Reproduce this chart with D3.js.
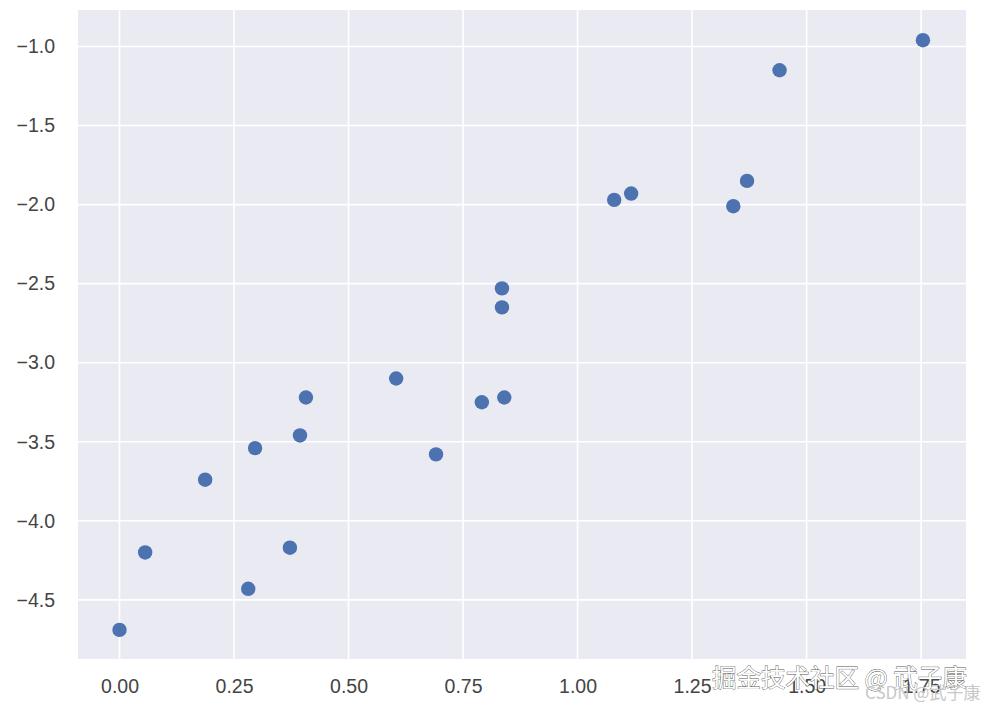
<!DOCTYPE html>
<html>
<head>
<meta charset="utf-8">
<script src="https://cdn.jsdelivr.net/npm/d3@7"></script>
<style>
  body { margin: 0; background: #fff; }
  .tick text { font-family: "Liberation Sans", Arial, sans-serif; }
</style>
</head>
<body>
<div id="chart"></div>
<script>
// Scatter values
var xValues = [0.000, 0.056, 0.187, 0.281, 0.296, 0.372, 0.394, 0.407, 0.604, 0.691,
               0.791, 0.840, 0.835, 0.835, 1.080, 1.117, 1.340, 1.370, 1.441, 1.754];
var yValues = [-4.69, -4.20, -3.74, -4.43, -3.54, -4.17, -3.46, -3.22, -3.10, -3.58,
               -3.25, -3.22, -2.53, -2.65, -1.97, -1.93, -2.01, -1.85, -1.15, -0.96];
var xTicks = [0, 0.25, 0.5, 0.75, 1.0, 1.25, 1.5, 1.75];
var yTicks = [-1.0, -1.5, -2.0, -2.5, -3.0, -3.5, -4.0, -4.5];

var data = xValues.map(function(x, i) { return {x: x, y: yValues[i]}; });

// SVG area
var svgWidth = 992;
var svgHeight = 712;
var margin = {top: 10, right: 26, bottom: 53, left: 78};
var width = svgWidth - margin.left - margin.right;
var height = svgHeight - margin.top - margin.bottom;

var svg = d3.select("#chart")
    .append("svg")
    .attr("width", svgWidth)
    .attr("height", svgHeight);

var chartGroup = svg.append("g")
    .attr("transform", `translate(${margin.left}, ${margin.top})`);

// Scales
var xScale = d3.scaleLinear()
    .domain([-0.0906, 1.848])
    .range([0, width]);
var yScale = d3.scaleLinear()
    .domain([-4.874, -0.769])
    .range([height, 0]);

// Background
chartGroup.append("rect")
    .attr("width", width)
    .attr("height", height)
    .attr("fill", "#eaeaf2");

// Grid lines
chartGroup.selectAll(".vgrid")
    .data(xTicks)
    .enter()
    .append("line")
    .attr("x1", d => xScale(d))
    .attr("x2", d => xScale(d))
    .attr("y1", 0)
    .attr("y2", height)
    .attr("stroke", "#fff")
    .attr("stroke-width", 1.6);
chartGroup.selectAll(".hgrid")
    .data(yTicks)
    .enter()
    .append("line")
    .attr("x1", 0)
    .attr("x2", width)
    .attr("y1", d => yScale(d))
    .attr("y2", d => yScale(d))
    .attr("stroke", "#fff")
    .attr("stroke-width", 1.6);

// Axes (labels only)
var xAxis = d3.axisBottom(xScale).tickValues(xTicks).tickFormat(d3.format(".2f")).tickSize(0).tickPadding(27);
var yAxis = d3.axisLeft(yScale).tickValues(yTicks).tickFormat(d3.format(".1f")).tickSize(0).tickPadding(23);

var gx = chartGroup.append("g")
    .attr("transform", `translate(0, ${height})`)
    .call(xAxis);
var gy = chartGroup.append("g")
    .call(yAxis);
[gx, gy].forEach(function(g) {
    g.select(".domain").remove();
    g.selectAll("text")
        .attr("font-size", 19.5)
        .attr("fill", "#444");
});
gx.selectAll("text").attr("dy", "0.35em");

// Points
chartGroup.selectAll("circle")
    .data(data)
    .enter()
    .append("circle")
    .attr("cx", d => xScale(d.x))
    .attr("cy", d => yScale(d.y))
    .attr("r", 7.2)
    .attr("fill", "#4c72b0");

// Watermarks
svg.append("text")
    .attr("x", 712)
    .attr("y", 687)
    .attr("font-family", "Noto Sans CJK SC, sans-serif")
    .attr("font-size", 24.5)
    .attr("fill", "#fff")
    .attr("stroke", "#555")
    .attr("stroke-width", 0.8)
    .attr("paint-order", "stroke")
    .text("掘金技术社区 @ 武子康");
svg.append("text")
    .attr("x", 865)
    .attr("y", 699)
    .attr("font-family", "Noto Sans CJK SC, sans-serif")
    .attr("font-size", 17)
    .attr("fill", "#c8c8c8")
    .text("CSDN @武子康");
</script>
</body>
</html>
